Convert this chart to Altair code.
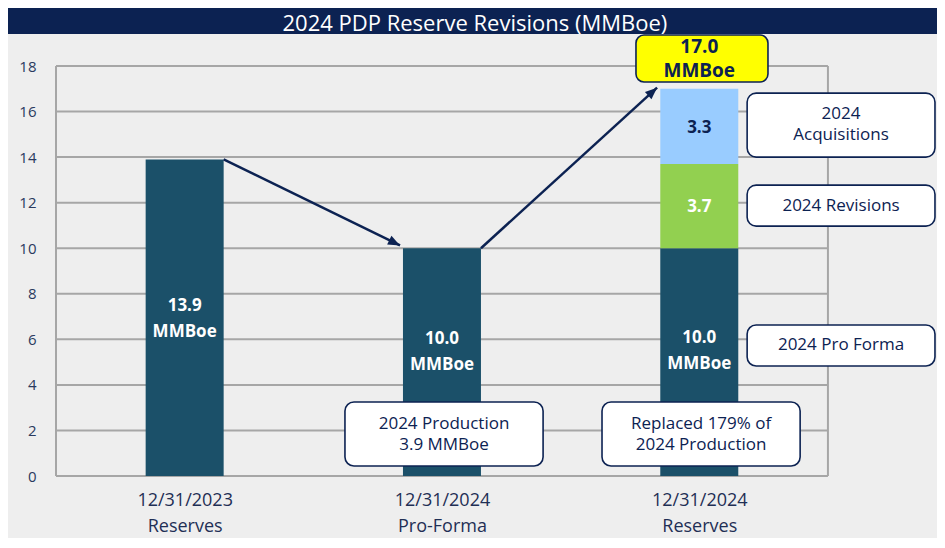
import altair as alt
import pandas as pd

# ---------------- data ----------------
categories = ["12/31/2023|Reserves", "12/31/2024|Pro-Forma", "12/31/2024|Reserves"]
cat_pos = [0.5, 1.5, 2.5]
seg_cat = [0, 1, 2, 2, 2]
seg_name = ["2023 Reserves", "2024 Pro Forma", "2024 Pro Forma", "2024 Revisions", "2024 Acquisitions"]
seg_value = [13.9, 10.0, 10.0, 3.7, 3.3]
seg_label = ["13.9\nMMBoe", "10.0\nMMBoe", "10.0\nMMBoe", "3.7", "3.3"]
total_label = "17.0\nMMBoe"
callout_text = ["2024\nAcquisitions", "2024 Revisions", "2024 Pro Forma"]
note_text = ["2024 Production\n3.9 MMBoe", "Replaced 179% of\n2024 Production"]
y_ticks = [0, 2, 4, 6, 8, 10, 12, 14, 16, 18]
title_text = "2024 PDP Reserve Revisions (MMBoe)"

# ---------------- styles / layout ----------------
NAVY = "#0c2252"
DARK = "#1b5069"
GREEN = "#92d050"
LBLUE = "#99ccff"
GRID = "#a6a6a6"
BG = "#eeeeee"
FONT = "Open Sans"
UNIT = 257.3          # px per x unit
W = 880
H = 410
BAR_W = 78
half = BAR_W / 2 / UNIT

# stacked segments
rows = []
base = {}
for c, n, v, lab in zip(seg_cat, seg_name, seg_value, seg_label):
    s = base.get(c, 0.0)
    rows.append(dict(x=cat_pos[c], name=n, start=s, end=s + v, label=lab,
                     tcolor=NAVY if n == "2024 Acquisitions" else "white"))
    base[c] = s + v
seg = pd.DataFrame(rows)
# label anchors (tall bars have text a bit above middle)
seg["ly"] = [6.9, 5.45, 5.5, 11.8, 15.3]
seg["multi"] = ["\n" in t for t in seg_label]
totals = [base[i] for i in range(3)]

xs = alt.Scale(domain=[0, 3.42], nice=False, zero=False, padding=0)
ys = alt.Scale(domain=[0, 18], nice=False, zero=False, padding=0)

label_expr = "datum.value < 1 ? %s : datum.value < 2 ? %s : %s" % tuple(
    "['" + "','".join(c.split("|")) + "']" for c in categories)

bars = alt.Chart(seg).mark_bar(size=BAR_W, orient="vertical").encode(
    x=alt.X("x:Q", scale=xs, title=None,
            axis=alt.Axis(values=cat_pos, labelExpr=label_expr, domain=False, ticks=False,
                          grid=False, labelFontSize=18, labelColor="#1f2f55", labelFont=FONT,
                          labelPadding=15, labelLineHeight=26)),
    y=alt.Y("start:Q", scale=ys, title=None,
            axis=alt.Axis(values=y_ticks, domain=False, ticks=False, grid=False,
                          labelFontSize=15, labelColor="#2a3a5e", labelFont=FONT,
                          labelPadding=20)),
    y2="end:Q",
    color=alt.Color("name:N", legend=None,
                    scale=alt.Scale(domain=["2023 Reserves", "2024 Pro Forma", "2024 Revisions", "2024 Acquisitions"],
                                    range=[DARK, DARK, GREEN, LBLUE])),
)

single = seg[~seg["multi"]]
multi = seg[seg["multi"]]
bar_text_multi = alt.Chart(multi).mark_text(font=FONT, fontSize=17, fontWeight="bold",
                                            lineBreak="\n", lineHeight=26, baseline="middle",
                                            dy=-13).encode(
    x=alt.X("x:Q", scale=xs), y=alt.Y("ly:Q", scale=ys),
    text="label:N", color=alt.Color("tcolor:N", scale=None))
bar_text_single = alt.Chart(single).mark_text(font=FONT, fontSize=17, fontWeight="bold",
                                              baseline="middle").encode(
    x=alt.X("x:Q", scale=xs), y=alt.Y("ly:Q", scale=ys),
    text="label:N", color=alt.Color("tcolor:N", scale=None))

# grid + frame
grid_df = pd.DataFrame({"y": y_ticks, "x0": 0.0, "x1": 3.0})
grid = alt.Chart(grid_df).mark_rule(color=GRID, strokeWidth=2).encode(
    x=alt.X("x0:Q", scale=xs), x2="x1:Q", y=alt.Y("y:Q", scale=ys))
frame_df = pd.DataFrame({"x": [0.0, 3.0], "y0": 0.0, "y1": 18.0})
frame = alt.Chart(frame_df).mark_rule(color=GRID, strokeWidth=2).encode(
    x=alt.X("x:Q", scale=xs), y=alt.Y("y0:Q", scale=ys), y2="y1:Q")

# title bar
title_df = pd.DataFrame({"x0": [-0.2], "x1": [3.45], "y0": [19.4], "y1": [20.7],
                         "tx": [1.628], "ty": [19.83], "t": [title_text]})
title_bar = alt.Chart(title_df).mark_rect(color=NAVY, cornerRadiusTopLeft=10,
                                          cornerRadiusTopRight=10).encode(
    x=alt.X("x0:Q", scale=xs), x2="x1:Q", y=alt.Y("y0:Q", scale=ys), y2="y1:Q")
title_txt = alt.Chart(title_df).mark_text(font=FONT, fontSize=22, color="white",
                                          baseline="middle").encode(
    x=alt.X("tx:Q", scale=xs), y=alt.Y("ty:Q", scale=ys), text="t:N")

# arrows
arrow_df = pd.DataFrame({
    "id": ["a", "a", "b", "b"],
    "o": [0, 1, 0, 1],
    "x": [cat_pos[0] + half, 1.337, cat_pos[1] + half, 2.336],
    "y": [totals[0], 10.12, totals[1], 17.05],
})
arrow_lines = alt.Chart(arrow_df).mark_line(color=NAVY, strokeWidth=2.5).encode(
    x=alt.X("x:Q", scale=xs), y=alt.Y("y:Q", scale=ys), detail="id:N", order="o:Q")
head_df = pd.DataFrame({"x": [1.337, 2.336], "y": [10.12, 17.05], "ang": [116.3, 47.9]})
arrow_heads = alt.Chart(head_df).mark_point(
    shape="M0,0L-0.85,2.1L0.85,2.1Z", filled=True, color=NAVY, opacity=1, size=130).encode(
    x=alt.X("x:Q", scale=xs), y=alt.Y("y:Q", scale=ys), angle=alt.Angle("ang:Q", scale=None))

# annotation boxes
box_df = pd.DataFrame({
    "text": callout_text + note_text,
    "x0": [2.686, 2.686, 2.686, 1.123, 2.122],
    "x1": [3.416, 3.416, 3.416, 1.893, 2.892],
    "y0": [14.0, 10.97, 4.83, 0.44, 0.44],
    "y1": [16.81, 12.77, 6.63, 3.25, 3.25],
    "tx": [3.051, 3.051, 3.051, 1.508, 2.507],
    "ty": [15.43, 11.87, 5.75, 1.82, 1.82],
})
box_df["multi"] = box_df["text"].str.contains("\n")
boxes = alt.Chart(box_df).mark_rect(fill="white", stroke=NAVY, strokeWidth=1.6,
                                    cornerRadius=9).encode(
    x=alt.X("x0:Q", scale=xs), x2="x1:Q", y=alt.Y("y0:Q", scale=ys), y2="y1:Q")
box_txt_multi = alt.Chart(box_df[box_df["multi"]]).mark_text(
    font=FONT, fontSize=17, color=NAVY, lineBreak="\n", lineHeight=21.5,
    baseline="middle", dy=-10.75).encode(
    x=alt.X("tx:Q", scale=xs), y=alt.Y("ty:Q", scale=ys), text="text:N")
box_txt_single = alt.Chart(box_df[~box_df["multi"]]).mark_text(
    font=FONT, fontSize=17, color=NAVY, baseline="middle").encode(
    x=alt.X("tx:Q", scale=xs), y=alt.Y("ty:Q", scale=ys), text="text:N")

# total box
tot_df = pd.DataFrame({"x0": [2.254], "x1": [2.767], "y0": [17.3], "y1": [19.36],
                       "tx": [2.5], "ty": [18.3], "t": [total_label]})
tot_box = alt.Chart(tot_df).mark_rect(fill="#ffff00", stroke=NAVY, strokeWidth=1.6,
                                      cornerRadius=8).encode(
    x=alt.X("x0:Q", scale=xs), x2="x1:Q", y=alt.Y("y0:Q", scale=ys), y2="y1:Q")
tot_txt = alt.Chart(tot_df).mark_text(font=FONT, fontSize=19, fontWeight="bold", color=NAVY,
                                      lineBreak="\n", lineHeight=24, baseline="middle",
                                      dy=-12).encode(
    x=alt.X("tx:Q", scale=xs), y=alt.Y("ty:Q", scale=ys), text="t:N")

chart = alt.layer(
    title_bar, title_txt, grid, frame, bars, bar_text_multi, bar_text_single,
    arrow_lines, arrow_heads, boxes, box_txt_multi, box_txt_single, tot_box, tot_txt
).properties(
    width=W, height=H,
    autosize=alt.AutoSizeParams(type="none"),
    padding={"left": 48, "top": 58, "right": 1, "bottom": 62},
    background=BG,
).configure_view(stroke=None)

chart.save("out.html", embed_options={"renderer": "svg", "actions": False})
